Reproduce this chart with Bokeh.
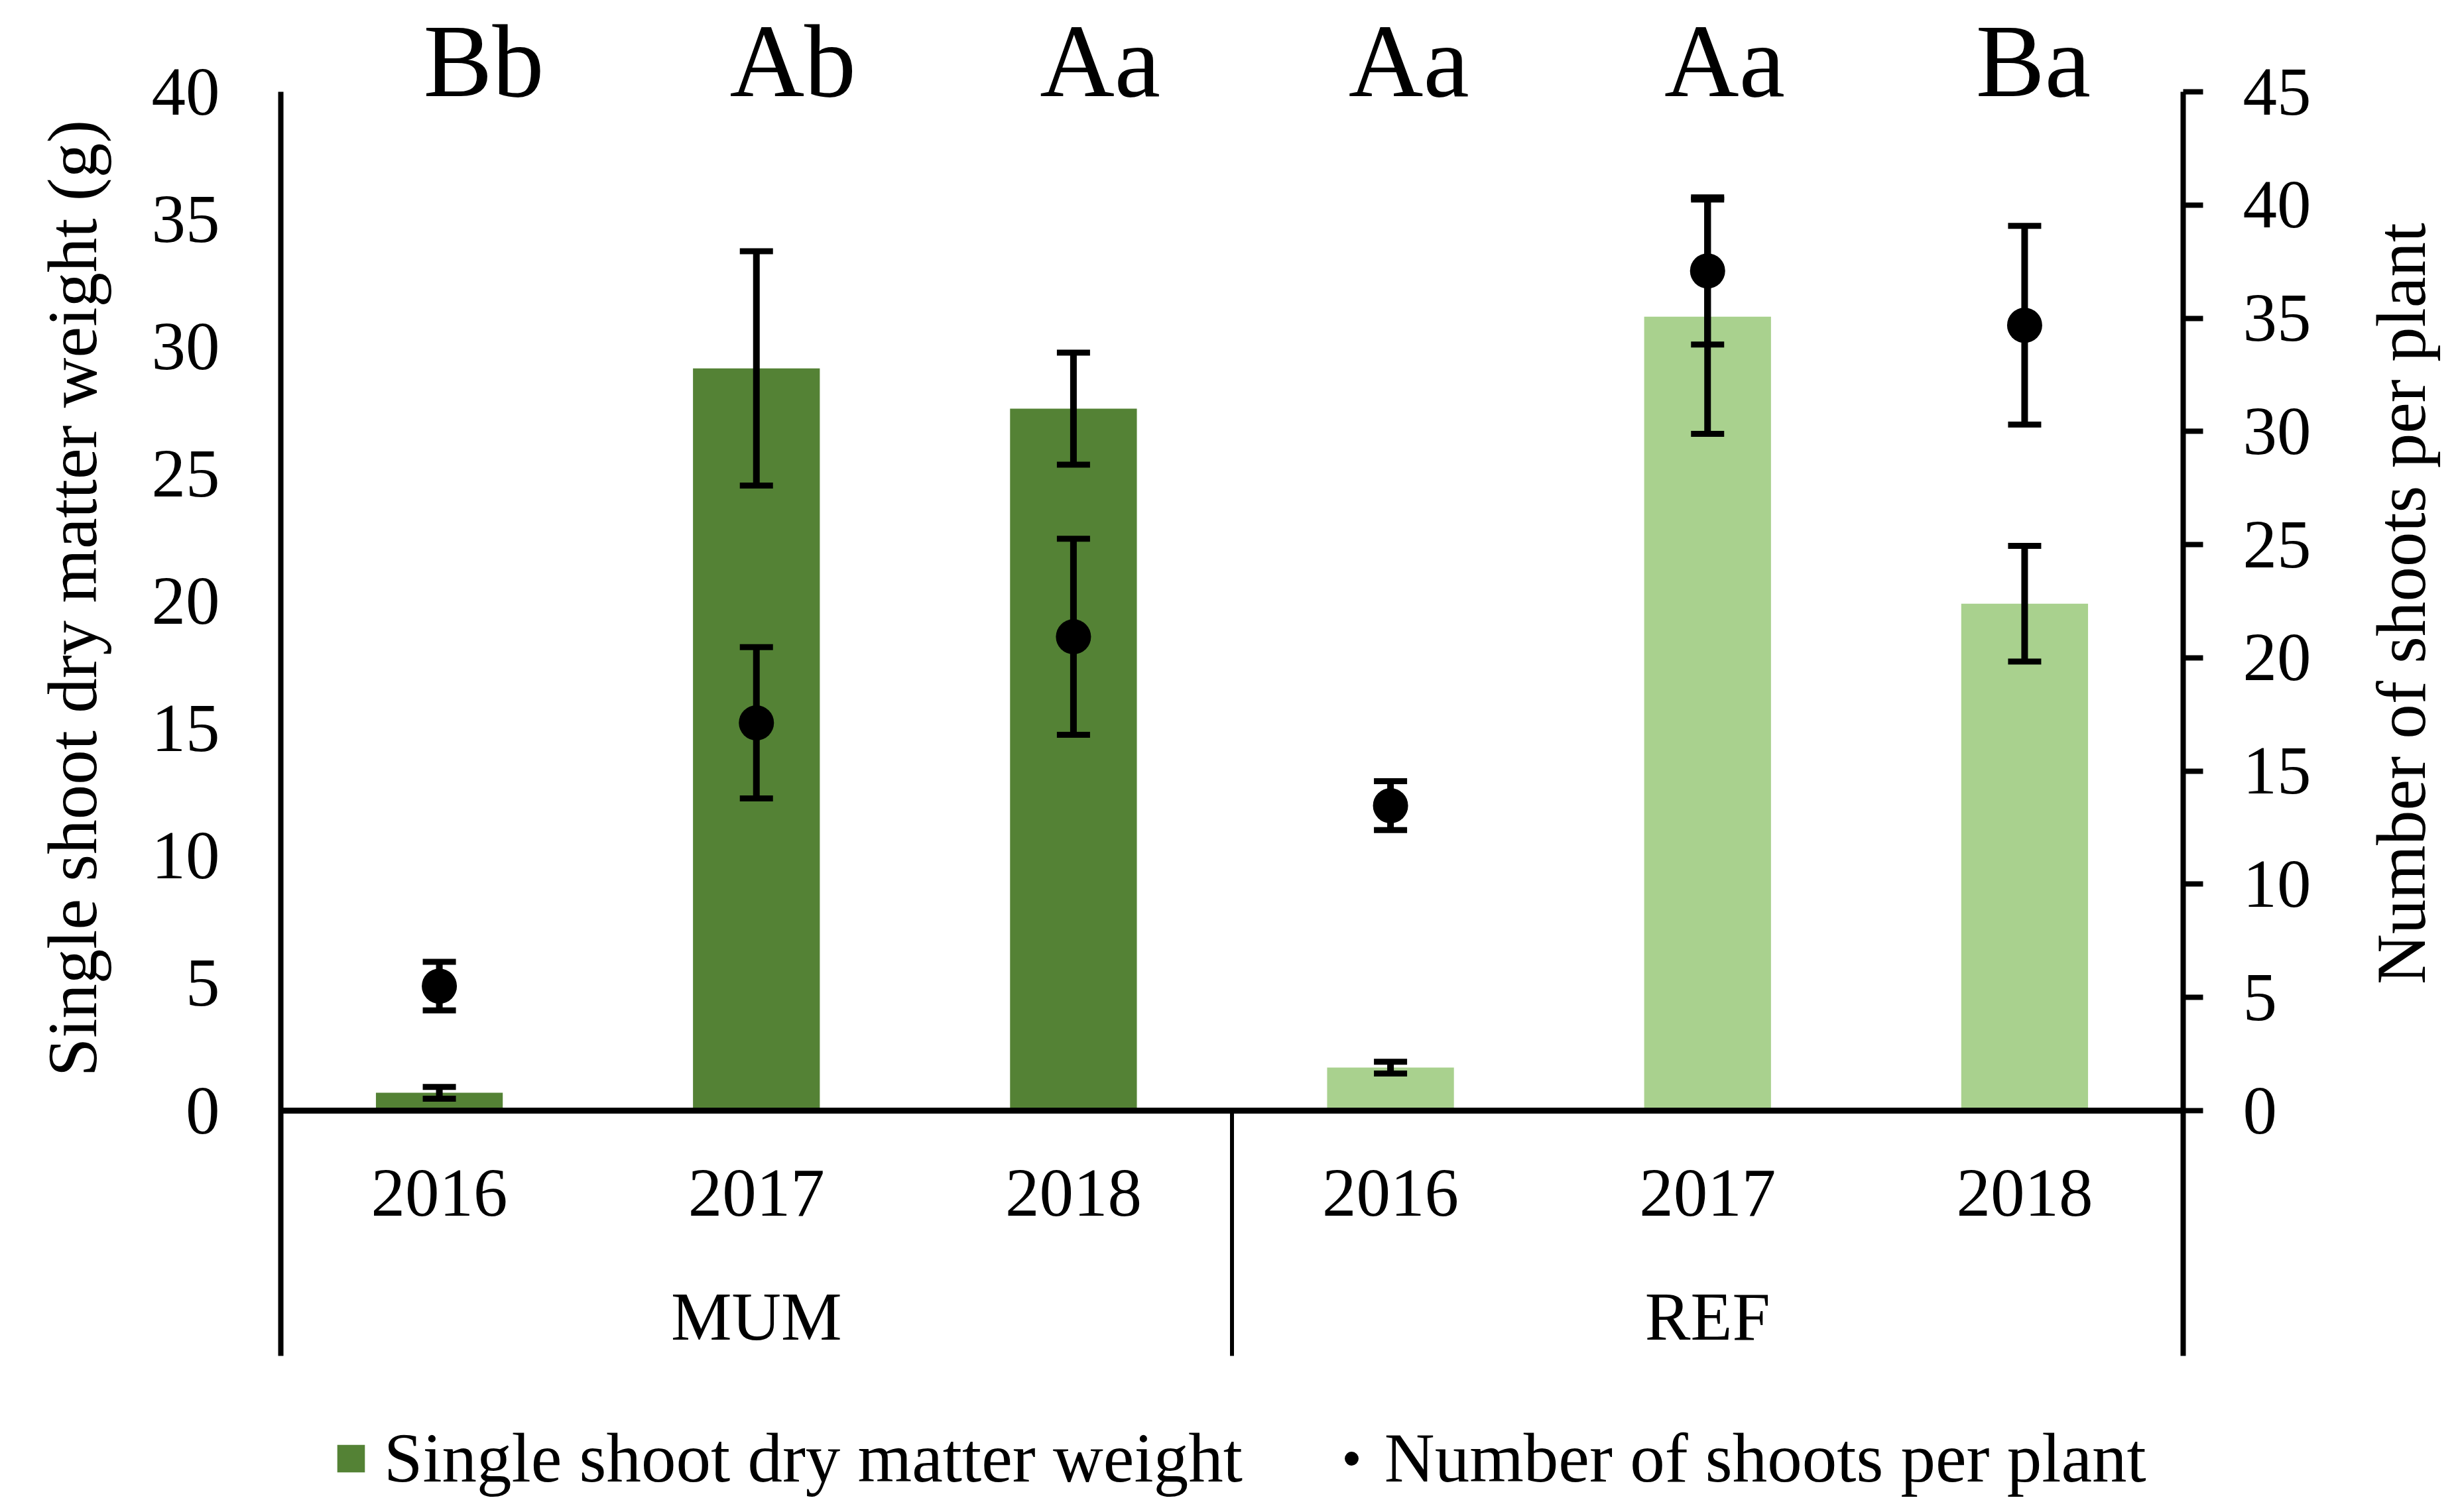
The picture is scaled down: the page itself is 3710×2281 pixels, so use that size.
import math
from bokeh.plotting import figure
from bokeh.layouts import row
from bokeh.models import (Range1d, LinearAxis, FixedTicker, ColumnDataSource, Whisker,
                          TeeHead, Span, Legend, LegendItem)
from bokeh.core.properties import value
from bokeh.embed import file_html
from bokeh.resources import INLINE

# ---------------- data ----------------
groups = ["MUM", "REF"]
sites = ["MUM", "MUM", "MUM", "REF", "REF", "REF"]
years = ["2016", "2017", "2018", "2016", "2017", "2018"]
weight = [0.70, 29.14, 27.56, 1.69, 31.17, 19.90]        # single shoot dry matter weight (g)
weight_err = [0.23, 4.60, 2.20, 0.23, 4.60, 2.27]
shoots = [5.50, 17.13, 20.93, 13.47, 37.09, 34.69]        # number of shoots per plant
shoots_err = [1.07, 3.34, 4.33, 1.08, 3.25, 4.39]
letters = ["Bb", "Ab", "Aa", "Aa", "Aa", "Ba"]
left_ticks = [0, 5, 10, 15, 20, 25, 30, 35, 40]
right_ticks = [0, 5, 10, 15, 20, 25, 30, 35, 40, 45]
site_colors = {"MUM": "#548235", "REF": "#A9D18E"}
left_title = "Single shoot dry matter weight (g)"
right_title = "Number of shoots per plant"
legend_labels = ["Single shoot dry matter weight", "Number of shoots per plant"]

# ---------------- layout constants ----------------
FONT = value("Liberation Serif")
FONT_NAME = "Liberation Serif"
W_TOTAL, H = 3694, 2265
LW, RW = 200, 154             # side strips holding the axis titles
FL, FR = 423, 3292            # frame left/right of the plotting area (page px)
Y40, Y0 = 138, 1675           # pixel rows of top tick and zero line
BOX_BOTTOM_PX = 2045          # bottom of category box
W = W_TOTAL - LW - RW

n = len(years)
per_group = n // len(groups)
PX_L = (Y0 - Y40) / left_ticks[-1]
PX_R = (Y0 - Y40) / right_ticks[-1]
y_end = left_ticks[-1] + Y40 / PX_L
y_start = -(H - Y0) / PX_L
r_end = right_ticks[-1] + Y40 / PX_R
r_start = -(H - Y0) / PX_R
box_bottom = -(BOX_BOTTOM_PX - Y0) / PX_L
r_box_bottom = -(BOX_BOTTOM_PX - Y0) / PX_R

xs = [i + 0.5 for i in range(n)]
colors = [site_colors[s] for s in sites]

# ================= main figure =================
p = figure(width=W, height=H, output_backend="svg", toolbar_location=None,
           x_range=Range1d(0, n), y_range=Range1d(y_start, y_end),
           x_axis_location=None, tools="")
p.extra_y_ranges = {"right": Range1d(r_start, r_end)}
p.min_border_left, p.min_border_right = FL - LW, (LW + W) - FR
p.min_border_top, p.min_border_bottom = 0, 0
p.outline_line_color = None
p.grid.grid_line_color = None
p.background_fill_color = "white"
p.border_fill_color = "white"

src = ColumnDataSource(dict(x=xs, w=weight, c=colors,
                            wu=[a + b for a, b in zip(weight, weight_err)],
                            wl=[a - b for a, b in zip(weight, weight_err)],
                            s=shoots,
                            su=[a + b for a, b in zip(shoots, shoots_err)],
                            sl=[a - b for a, b in zip(shoots, shoots_err)]))
bars = p.vbar(x="x", top="w", bottom=0, width=0.4, fill_color="c", line_color=None, source=src)
dots = p.scatter(x="x", y="s", size=53, fill_color="black", line_color=None,
                 y_range_name="right", source=src)


def tee():
    return TeeHead(size=50, line_width=9, line_color="black")


p.add_layout(Whisker(source=src, base="x", upper="wu", lower="wl", dimension="height",
                     line_width=10, line_color="black", upper_head=tee(), lower_head=tee(),
                     level="overlay"))
p.add_layout(Whisker(source=src, base="x", upper="su", lower="sl", dimension="height",
                     line_width=10, line_color="black", upper_head=tee(), lower_head=tee(),
                     y_range_name="right", level="overlay"))

# zero line
p.add_layout(Span(location=0, dimension="width", line_color="black", line_width=9))

# group separator
sep_x = [g * per_group for g in range(1, len(groups))]
p.segment(x0=sep_x, y0=[box_bottom] * len(sep_x), x1=sep_x, y1=[0] * len(sep_x),
          line_color="black", line_width=6)

# year and group labels
p.text(x=xs, y=[-124 / PX_L] * n, text=years, text_font=FONT, text_font_size=value("103px"),
       text_align="center", text_baseline="middle", text_color="black")
gx = [g * per_group + per_group / 2 for g in range(len(groups))]
p.text(x=gx, y=[-310 / PX_L] * len(groups), text=groups, text_font=FONT,
       text_font_size=value("103px"), text_align="center", text_baseline="middle",
       text_color="black")

# significance letters
LETTER_DX = [0.14, 0.115, 0.084, 0.058, 0.054, 0.027]
p.text(x=[a + b for a, b in zip(xs, LETTER_DX)],
       y=[left_ticks[-1] + (Y40 - 92) / PX_L] * n,
       text=letters, text_font=FONT, text_font_size=value("156px"),
       text_align="center", text_baseline="middle", text_color="black")

# left axis
ya = p.yaxis[0]
ya.ticker = FixedTicker(ticks=left_ticks)
ya.bounds = (box_bottom, left_ticks[-1])
ya.axis_line_width = 8
ya.axis_line_color = "black"
ya.major_tick_out = 0
ya.major_tick_in = 0
ya.minor_tick_out = 0
ya.minor_tick_in = 0
ya.major_label_standoff = 92
ya.major_label_text_font = FONT_NAME
ya.major_label_text_font_size = "103px"
ya.major_label_text_color = "black"

# right axis
ra = LinearAxis(y_range_name="right", ticker=FixedTicker(ticks=right_ticks),
                bounds=(r_box_bottom, right_ticks[-1]))
ra.axis_line_width = 8
ra.axis_line_color = "black"
ra.major_tick_out = 30
ra.major_tick_in = 0
ra.major_tick_line_width = 8
ra.minor_tick_out = 0
ra.minor_tick_in = 0
ra.major_label_standoff = 60
ra.major_label_text_font = FONT_NAME
ra.major_label_text_font_size = "103px"
ra.major_label_text_color = "black"
p.add_layout(ra, "right")

# legend
legend = Legend(items=[LegendItem(label=legend_labels[0], renderers=[bars], index=0),
                       LegendItem(label=legend_labels[1], renderers=[dots], index=0)],
                location=(80, 5), orientation="horizontal", glyph_width=52, glyph_height=52,
                label_standoff=24, spacing=138, padding=0, margin=0,
                border_line_color=None, background_fill_alpha=0,
                label_text_font=FONT_NAME, label_text_font_size="105px",
                label_text_color="black")
p.add_layout(legend)


# ================= side strips with the axis titles =================
def title_strip(width, title, cx, cy):
    s = figure(width=width, height=H, output_backend="svg", toolbar_location=None,
               x_range=Range1d(0, width), y_range=Range1d(H, 0),
               x_axis_location=None, y_axis_location=None, tools="")
    s.min_border_left = s.min_border_right = 0
    s.min_border_top = s.min_border_bottom = 0
    s.outline_line_color = None
    s.grid.grid_line_color = None
    s.background_fill_color = "white"
    s.border_fill_color = "white"
    s.text(x=[cx], y=[cy], text=[title], angle=math.pi / 2, text_font=FONT,
           text_font_size=value("105px"), text_align="center", text_baseline="middle",
           text_color="black")
    return s


lf = title_strip(LW, left_title, 109, 902)
rf = title_strip(RW, right_title, 3621 - (LW + W), 910)

layout = row(lf, p, rf, spacing=0)
open("out.html", "w").write(file_html(layout, INLINE))
